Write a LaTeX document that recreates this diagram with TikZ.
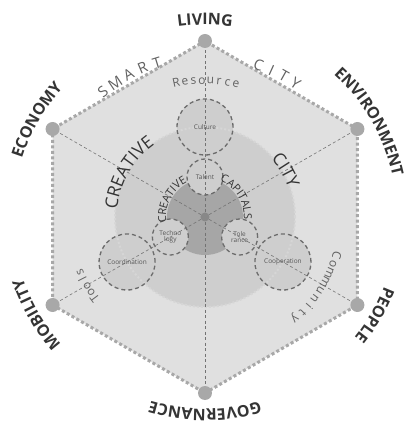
\documentclass[tikz,border=0pt]{standalone}
\usepackage{fontspec}
\setmainfont{Open Sans}
\newfontfamily\loosefam{Open Sans}[LetterSpace=8]
\usetikzlibrary{decorations.text}

\definecolor{hexfill}{RGB}{224,224,224}
\definecolor{hexline}{RGB}{168,168,168}
\definecolor{bigfill}{RGB}{206,206,206}
\definecolor{bigline}{RGB}{214,214,214}
\definecolor{darkfill}{RGB}{166,166,166}
\definecolor{dotfill}{RGB}{168,168,168}
\definecolor{coredot}{RGB}{136,136,136}
\definecolor{ringline}{RGB}{108,108,108}
\definecolor{spokeline}{RGB}{115,115,115}
\definecolor{labelink}{RGB}{52,52,52}
\definecolor{softink}{RGB}{98,98,98}
\definecolor{smallink}{RGB}{85,85,85}

\newcommand{\outerfont}{\color{labelink}\fontsize{16}{16}\selectfont\bfseries}
\newcommand{\bigcfont}{\color{labelink}\fontsize{17.5}{17.5}\selectfont\loosefam}
\newcommand{\smallcfont}{\color{labelink}\fontsize{11}{11}\selectfont}
\newcommand{\widefont}{\fontsize{15}{15}\selectfont}
\newcommand{\trackfont}{\fontsize{12}{12}\selectfont}

% text on a clockwise arc: radius, middle angle, font, text
\newcommand{\arclabel}[4]{%
  \path[decorate, decoration={text along path, text align=center, text={|#3|#4}}]
    (#2+80:#1) arc[start angle=#2+80, end angle=#2-80, radius=#1];}

% spaced letters on a clockwise arc: name, radius, middle angle, step, font, letters
\newcommand{\spacedarc}[6]{%
  \foreach \ch [count=\k] in {#6} {\xdef\nch{\k}}
  \foreach \ch [count=\k] in {#6} {
    \pgfmathsetmacro\ang{#3+(\nch+1)/2*#4-\k*#4}
    \pgfmathsetmacro\rot{\ang-90}
    \node[font=#5, text=softink, rotate=\rot, anchor=base, inner sep=0pt] (#1\k) at (\ang:#2) {\ch};}}

\begin{document}
\begin{tikzpicture}[x=1pt, y=1pt,
    ring/.style={circle, draw=ringline, line width=1.3pt, dash pattern=on 4pt off 3pt,
      inner sep=0pt, align=center, text=smallink, font=\fontsize{6.5}{6.5}\selectfont},
    vdot/.style={circle, fill=dotfill, inner sep=0pt, minimum size=14pt},
    spoke/.style={draw=spokeline, line width=0.6pt, dash pattern=on 3pt off 2.5pt}]
  \useasboundingbox (-205,-206) rectangle (204,217);

  % hexagon
  \coordinate (c) at (0,0);
  \foreach \a [count=\i] in {90,150,210,270,330,30}
    \coordinate (v\i) at (\a:176);
  \draw[fill=hexfill, draw=hexline, line width=3pt, dash pattern=on 3pt off 2.5pt]
    (v1) -- (v2) -- (v3) -- (v4) -- (v5) -- (v6) -- cycle;

  % creative city disc
  \fill[bigfill] (90:90) circle[radius=28] (210:90) circle[radius=28] (330:90) circle[radius=28];
  \draw[fill=bigfill, draw=bigline, line width=2pt, dash pattern=on 2pt off 2pt] (c) circle[radius=90];

  % creative capitals core
  \fill[darkfill] (c) circle[radius=38];
  \fill[bigfill] (90:40) circle[radius=18] (210:40) circle[radius=18] (330:40) circle[radius=18];

  % dots and spokes
  \foreach \i in {1,...,6}
    \node[vdot] (dot\i) at (v\i) {};
  \node[circle, fill=coredot, inner sep=0pt, minimum size=9pt] (core) at (c) {};
  \foreach \i in {1,...,6}
    \draw[spoke] (core) -- (dot\i);

  % rings
  \node[ring, minimum size=56pt] (culture) at (90:90) {Culture};
  \node[ring, minimum size=56pt] (coordination) at (210:90) {Coordination};
  \node[ring, minimum size=56pt] (cooperation) at (330:90) {Cooperation};
  \node[ring, minimum size=36pt] (talent) at (90:40) {Talent};
  \node[ring, minimum size=36pt] (technology) at (210:40) {Techno\\logy};
  \node[ring, minimum size=36pt] (tolerance) at (330:40) {Tole\\rance};

  % labels
  \arclabel{192}{90}{\outerfont}{LIVING}
  \arclabel{192}{30}{\outerfont}{ENVIRONMENT}
  \arclabel{192}{-30}{\outerfont}{PEOPLE}
  \arclabel{192}{-90}{\outerfont}{GOVERNANCE}
  \arclabel{192}{-150}{\outerfont}{MOBILITY}
  \arclabel{192}{150}{\outerfont}{ECONOMY}

  \spacedarc{smart}{156}{118.3}{5.5}{\widefont}{S,M,A,R,T}
  \spacedarc{city}{156}{63.2}{4.9}{\widefont}{C,I,T,Y}
  \spacedarc{resource}{133}{89.5}{3.6}{\trackfont}{R,e,s,o,u,r,c,e}
  \spacedarc{tools}{133}{210.2}{3.2}{\trackfont}{T,o,o,l,s}
  \spacedarc{community}{133}{-32.4}{4.05}{\trackfont}{C,o,m,m,u,n,i,t,y}

  \arclabel{88}{150}{\bigcfont}{CREATIVE}
  \arclabel{88}{30}{\bigcfont}{CITY}
  \arclabel{39}{153}{\smallcfont}{CREATIVE}
  \arclabel{39}{32}{\smallcfont}{CAPITALS}
\end{tikzpicture}
\end{document}
